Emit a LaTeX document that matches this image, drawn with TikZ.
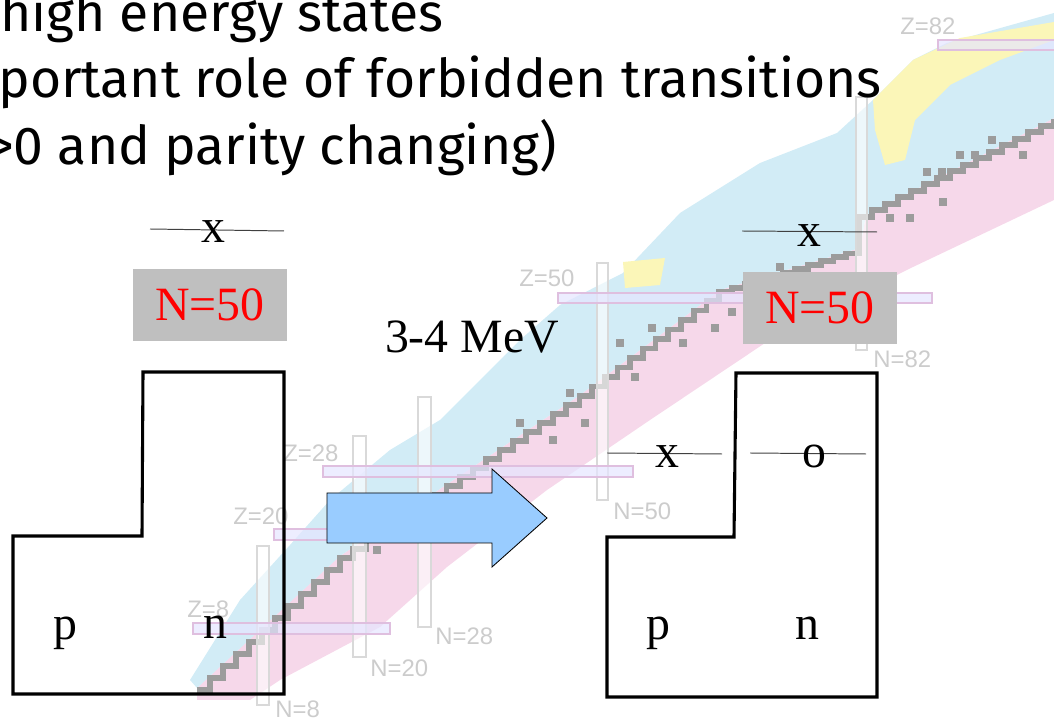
\documentclass[tikz,border=0pt]{standalone}
\usepackage{fontspec}
\setmainfont{Liberation Serif}
\newfontfamily\handfont{Fira Sans}
\newfontfamily\chartfont{Liberation Sans}
\definecolor{arrowblue}{HTML}{99CCFF}
\definecolor{chartblue}{HTML}{D2ECF6}
\definecolor{chartpink}{HTML}{F6D8EA}
\definecolor{chartyellow}{HTML}{FBF6B8}
\definecolor{stairgray}{HTML}{9C9C9C}
\begin{document}
\begin{tikzpicture}[x=0.025cm, y=-0.025cm,
  every node/.style={inner sep=0pt, font=\fontsize{34}{40}\selectfont},
  shell/.style={draw, line width=2.2pt},
  level/.style={draw=black!75, line width=0.7pt},
  magicbox/.style={fill=black!25, text=red, minimum width=3.85cm, minimum height=1.8cm},
  hand/.style={font=\handfont\fontsize{38}{44}\selectfont, anchor=base west},
  nbar/.style={draw=gray!30, fill=white, fill opacity=0.6, line width=1pt},
  zbar/.style={draw=violet!25, fill=blue!10, fill opacity=0.7, line width=1pt},
  maglabel/.style={font=\chartfont\fontsize{17}{20}\selectfont, text=gray!40, anchor=base west},
  stair/.style={draw=stairgray, line width=4pt}]
\useasboundingbox (0,0) rectangle (1054,720);
\clip (0,0) rectangle (1054,720);

% faded chart of nuclides
\fill[chartpink] (197,700) -- (197,688) -- (340,556) -- (580,395) -- (720,290) -- (860,248) -- (866,215) -- (1054,118)
  -- (1054,200) -- (913,267) -- (780,333) -- (650,420) -- (547,490) -- (447,567) -- (380,627) -- (280,680) -- (250,700) -- cycle;
\fill[chartblue] (190,680) -- (240,600) -- (290,545) -- (330,500) -- (390,450) -- (440,420) -- (520,340) -- (560,305)
  -- (623,273) -- (680,213) -- (760,163) -- (837,133) -- (873,100) -- (913,60) -- (947,43) -- (1054,13)
  -- (1054,118) -- (866,215) -- (860,248) -- (720,290) -- (580,395) -- (340,556) -- (197,688) -- cycle;
\fill[chartyellow] (873,100) -- (913,60) -- (960,38) -- (1054,22) -- (1054,40) -- (1000,60) -- (950,85)
  -- (915,120) -- (905,160) -- (885,165) -- (875,130) -- cycle;
\fill[chartyellow] (623,262) -- (665,258) -- (660,285) -- (625,288) -- cycle;
\draw[stair] (197,690) \foreach \i in {1,...,11} { -- ++(13,0) -- ++(0,-12) }
  \foreach \i in {1,...,18} { -- ++(13.3,0) -- ++(0,-9) }
  \foreach \i in {1,...,11} { -- ++(12.7,0) -- ++(0,-9.5) }
  \foreach \i in {1,...,11} { -- ++(12.7,0) -- ++(0,-3.8) }
  -- ++(0,-33) \foreach \i in {1,...,15} { -- ++(13,0) -- ++(0,-6.5) };
\foreach \dx/\dy in {780/267, 992/140, 960/155, 975/155, 927/172, 942/172, 943/202, 910/218, 890/218,
  1023/155, 652/328, 683/343, 715/328, 732/312, 620/343, 635/377, 520/423, 553/440, 585/423, 570/393, 377/550}
  \fill[stairgray] (\dx-4,\dy-4) rectangle (\dx+4,\dy+4);

% magic numbers
\draw[nbar] (257,546) rectangle (269,705);
\draw[nbar] (353,436) rectangle (366,657);
\draw[nbar] (418,397) rectangle (431,627);
\draw[nbar] (597,263) rectangle (608,500);
\draw[nbar] (856,97) rectangle (867,350);
\draw[zbar] (193,623) rectangle (390,634);
\draw[zbar] (274,529) rectangle (330,540);
\draw[zbar] (323,466) rectangle (633,477);
\draw[zbar] (558,293) rectangle (932,303);
\draw[zbar] (938,40) rectangle (1060,50);
\node[maglabel] (z82) at (900,35) {Z=82};
\node[maglabel] (z50) at (519,287) {Z=50};
\node[maglabel] (z28) at (283,462) {Z=28};
\node[maglabel] (z20) at (233,525) {Z=20};
\node[maglabel] (z8) at (187,618) {Z=8};
\node[maglabel] (n8) at (275,718) {N=8};
\node[maglabel] (n20) at (370,677) {N=20};
\node[maglabel] (n28) at (435,645) {N=28};
\node[maglabel] (n50) at (613,520) {N=50};
\node[maglabel] (n82) at (873,368) {N=82};

% slide text
\node[hand] (line1) at (0,32) {high energy states};
\node[hand] (line2) at (-2,98) {portant role of forbidden transitions};
\node[hand] (line3) at (-13,165) {>0 and parity changing)};

% before: ground state
\draw[shell] (143,372) -- (284,372) -- (284,694) -- (13,694) -- (13,536) -- (142,536) -- cycle;
\draw[level] (150,229) -- (284,231);
\node[anchor=base] (xtopL) at (213,243) {x};
\node[magicbox] (magicL) at (210,305) {N=50};
\node[anchor=base] (pL) at (65,640) {p};
\node[anchor=base] (nL) at (215,639) {n};

% excitation
\draw[fill=arrowblue, line width=0.6pt] (327,493) -- (492,493) -- (492,469) -- (547,518) -- (492,567) -- (492,543) -- (327,543) -- cycle;
\node[anchor=base] (gap) at (472,353) {3-4 MeV};

% after: excited state
\draw[shell] (736,373) -- (877,373) -- (877,697) -- (607,697) -- (607,537) -- (734,537) -- cycle;
\draw[level] (742,231) -- (877,232);
\node[anchor=base] (xtopR) at (809,247) {x};
\node[magicbox] (magicR) at (820,308) {N=50};
\draw[level] (607,453) -- (722,454);
\draw[level] (750,453) -- (866,454);
\node[anchor=base] (xR) at (667,468) {x};
\node[anchor=base] (oR) at (814,468) {o};
\node[anchor=base] (pR) at (658,640) {p};
\node[anchor=base] (nR) at (807,640) {n};
\end{tikzpicture}
\end{document}
